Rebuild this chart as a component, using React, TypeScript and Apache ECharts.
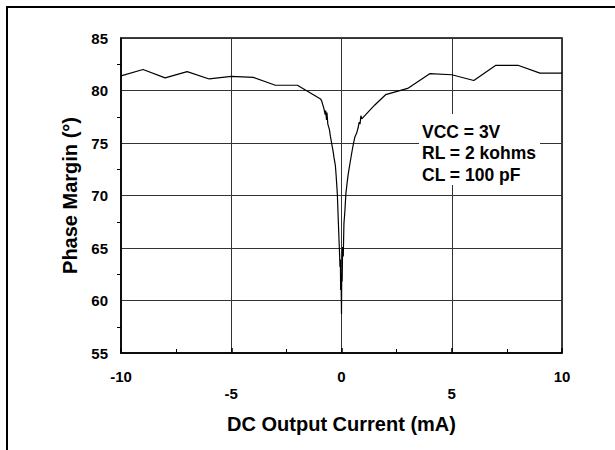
import React, { useEffect, useRef } from "react";
import * as echarts from "echarts";

// DC output current (mA) and phase margin (degrees)
const currentMA = [
  -10, -9, -8, -7, -6, -5, -4, -3, -2, -0.95,
  -0.9, -0.8, -0.74, -0.72, -0.68, -0.66, -0.62, -0.55, -0.5, -0.44,
  -0.38, -0.34, -0.28, -0.25, -0.19, -0.14, -0.1, -0.08, -0.07, -0.05,
  -0.04, -0.02, 0, 0.01, 0.03, 0.05, 0.08, 0.11, 0.15, 0.2,
  0.26, 0.31, 0.38, 0.46, 0.52, 0.61, 0.68, 0.76, 0.8, 0.84,
  0.88, 0.92, 1.5, 2, 3, 4, 5, 6, 7, 8, 9, 10,
];
const phaseMargin = [
  81.4, 82.0, 81.2, 81.8, 81.1, 81.35, 81.25, 80.5, 80.5, 79.2,
  79.0, 78.3, 77.7, 78.1, 77.2, 77.9, 76.8, 76.3, 75.6, 74.9,
  74.2, 73.6, 72.9, 72.1, 70.2, 67.3, 65.1, 64.0, 63.2, 63.9,
  61.0, 62.2, 58.7, 62.6, 61.8, 65.1, 64.2, 67.3, 68.4, 70.2,
  71.3, 72.1, 73.0, 74.0, 74.7, 75.6, 75.9, 76.5, 77.0, 76.8,
  77.6, 77.3, 78.6, 79.6, 80.2, 81.6, 81.5, 80.95, 82.4, 82.4, 81.65, 81.65,
];
const annotationLines = ["VCC = 3V", "RL = 2 kohms", "CL = 100 pF"];
const xTitle = "DC Output Current (mA)";
const yTitle = "Phase Margin (°)";

const FONT = "'Liberation Sans', Arial, Helvetica, sans-serif";

export default function App() {
  const ref = useRef<HTMLDivElement>(null);
  useEffect(() => {
    if (!ref.current) return;
    const chart = echarts.init(ref.current, undefined, { renderer: "svg" });
    const data = currentMA.map((x, i) => [x, phaseMargin[i]]);
    chart.setOption({
      animation: false,
      backgroundColor: "#fff",
      grid: {
        left: 121,
        right: 53,
        top: 38,
        bottom: 97,
        show: true,
        borderColor: "#000",
        borderWidth: 1.5,
        backgroundColor: "transparent",
      },
      xAxis: {
        type: "value",
        min: -10,
        max: 10,
        interval: 5,
        name: xTitle,
        nameLocation: "middle",
        nameGap: 61,
        nameTextStyle: { fontFamily: FONT, fontWeight: "bold", fontSize: 20, color: "#000" },
        axisLine: { show: true, onZero: false, lineStyle: { color: "#000", width: 1.5 } },
        axisTick: { show: true, inside: true, length: 5, lineStyle: { color: "#000", width: 1.5 } },
        minorTick: { show: true, splitNumber: 2, length: 4, lineStyle: { color: "#000", width: 1 } },
        splitLine: { show: true, lineStyle: { color: "#333", width: 1 } },
        axisLabel: {
          fontFamily: FONT,
          fontWeight: "bold",
          fontSize: 15,
          color: "#000",
          margin: 15,
          lineHeight: 17,
          alignMinLabel: "center",
          alignMaxLabel: "center",
          formatter: (v: number) => (Math.abs(v) === 5 ? "\n" + v : String(v)),
        },
      },
      yAxis: {
        type: "value",
        min: 55,
        max: 85,
        interval: 5,
        name: yTitle,
        nameLocation: "middle",
        nameGap: 40,
        nameTextStyle: { fontFamily: FONT, fontWeight: "bold", fontSize: 20, color: "#000" },
        axisLine: { show: true, onZero: false, lineStyle: { color: "#000", width: 1.5 } },
        axisTick: { show: false },
        minorTick: { show: true, splitNumber: 2, length: 4, lineStyle: { color: "#000", width: 1 } },
        splitLine: { show: true, lineStyle: { color: "#333", width: 1 } },
        axisLabel: {
          fontFamily: FONT,
          fontWeight: "bold",
          fontSize: 15,
          color: "#000",
          margin: 13,
        },
      },
      series: [
        {
          type: "line",
          data,
          showSymbol: false,
          symbol: "none",
          lineStyle: { color: "#000", width: 1.2 },
          z: 5,
        },
      ],
      graphic: [
        { type: "line", shape: { x1: 7, y1: 7, x2: 615, y2: 7 }, style: { stroke: "#000", lineWidth: 2 }, z: 50 },
        { type: "line", shape: { x1: 7, y1: 6, x2: 7, y2: 450 }, style: { stroke: "#000", lineWidth: 2 }, z: 50 },
        { type: "rect", shape: { x: 419, y: 114, width: 121, height: 71 }, style: { fill: "#fff" }, z: 60 },
        ...annotationLines.map((t, i) => ({
          type: "text",
          x: 422,
          y: 131.5 + i * 21.7,
          z: 61,
          style: {
            text: t,
            fill: "#000",
            font: `bold 17.5px ${FONT}`,
            verticalAlign: "middle",
            align: "left",
          },
        })),
      ],
    });
    return () => chart.dispose();
  }, []);
  return <div ref={ref} style={{ width: 615, height: 450, position: "absolute", left: 0, top: 0 }} />;
}
